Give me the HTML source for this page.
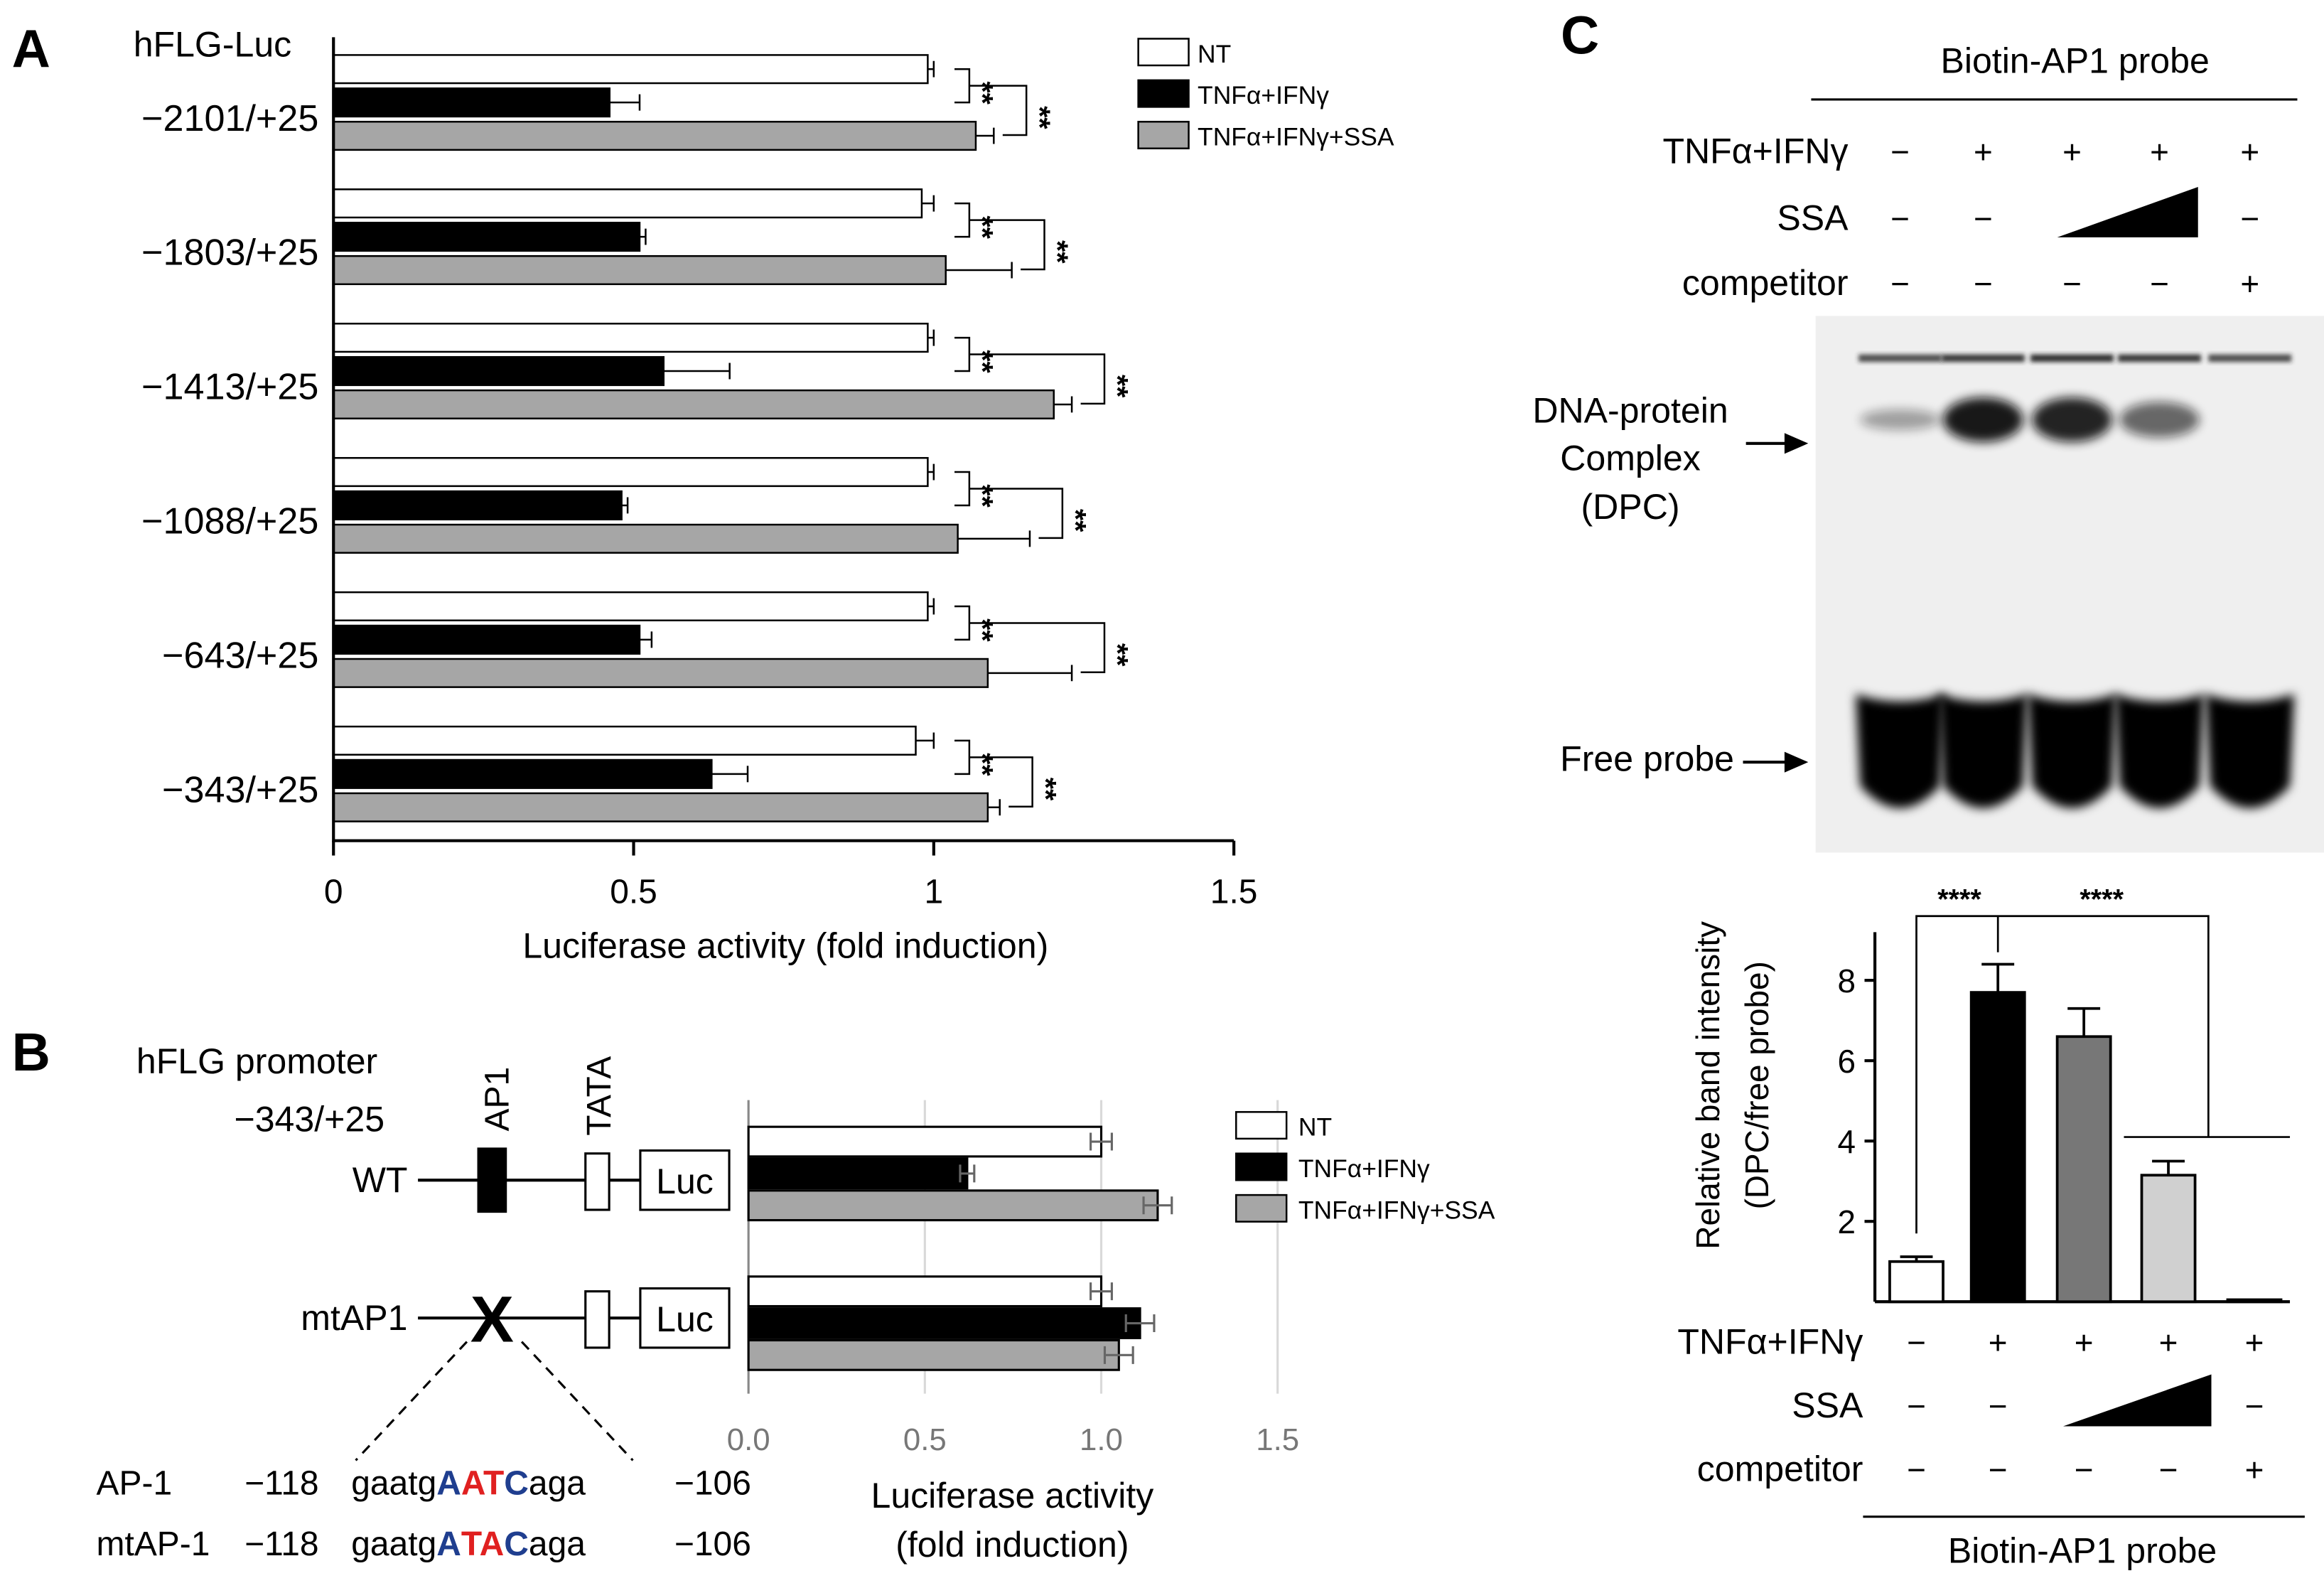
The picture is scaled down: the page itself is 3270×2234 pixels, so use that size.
<!DOCTYPE html>
<html><head><meta charset="utf-8"><style>
html,body{margin:0;padding:0;background:#fff;}
svg{display:block;font-family:"Liberation Sans",Arial,sans-serif;}
</style></head><body>
<svg id="fig" width="3270" height="2234" viewBox="0 0 1568 1071" xmlns="http://www.w3.org/2000/svg">
<defs>
<filter id="blur" x="-30%" y="-50%" width="160%" height="200%"><feGaussianBlur stdDeviation="3.5"/></filter>
<filter id="blur2" x="-20%" y="-50%" width="140%" height="200%"><feGaussianBlur stdDeviation="1.5"/></filter>
</defs>
<g id="panelA"></g>
<g id="panelB"></g>
<g id="panelC"></g>
</svg>
<script>
// ---- Panel A data ----
const aCategories = ["−2101/+25","−1803/+25","−1413/+25","−1088/+25","−643/+25","−343/+25"];
const aNT = [0.99,0.98,0.99,0.99,0.99,0.97];
const aNTerr = [0.01,0.02,0.01,0.01,0.01,0.03];
const aTI = [0.46,0.51,0.55,0.48,0.51,0.63];
const aTIerr = [0.05,0.01,0.11,0.01,0.02,0.06];
const aSSA = [1.07,1.02,1.20,1.04,1.09,1.09];
const aSSAerr = [0.03,0.11,0.03,0.12,0.14,0.02];
const aTicks = [0,0.5,1,1.5];
const aTickLabels = ["0","0.5","1","1.5"];
// ---- Panel B data ----
const bCategories = ["WT","mtAP1"];
const bNT = [1.0,1.0];
const bNTerr = [0.03,0.03];
const bTI = [0.62,1.11];
const bTIerr = [0.02,0.04];
const bSSA = [1.16,1.05];
const bSSAerr = [0.04,0.04];
const bTicks = [0,0.5,1.0,1.5];
const bTickLabels = ["0.0","0.5","1.0","1.5"];
// ---- Panel C data ----
const cLanes = ["lane1","lane2","lane3","lane4","lane5"];
const cValues = [1.0,7.7,6.6,3.15,0.05];
const cErr = [0.12,0.7,0.7,0.35,0];
const cTicks = [2,4,6,8];
const cTickLabels = ["2","4","6","8"];

const NS="http://www.w3.org/2000/svg";
function el(parent,tag,attrs,text){const e=document.createElementNS(NS,tag);for(const k in attrs)e.setAttribute(k,attrs[k]);if(text!==undefined)e.textContent=text;parent.appendChild(e);return e;}

// ===== Panel A =====
const A=document.getElementById('panelA');
const ax=v=>225+v*405;
const aGroupTop=i=>37+i*90.6;
let t;
t=el(A,'text',{x:8,y:45,'font-size':36,'font-weight':'bold'},'A');

t=el(A,'text',{x:90,y:38,'font-size':24},'hFLG-Luc');

const aSeries=[[aNT,aNTerr,'#fff'],[aTI,aTIerr,'#000'],[aSSA,aSSAerr,'#a6a6a6']];
aCategories.forEach((c,i)=>{
  const top=aGroupTop(i);
  t=el(A,'text',{x:215,y:top+51,'font-size':25,'text-anchor':'end'},c);
  
  aSeries.forEach((s,j)=>{
    const y=top+j*22.5, v=s[0][i], e=s[1][i];
    const r=el(A,'rect',{x:ax(0),y:y,width:ax(v)-ax(0),height:19,fill:s[2],stroke:'#000','stroke-width':1.2});
    
    const l=el(A,'path',{d:`M${ax(v)} ${y+9.5}H${ax(v+e)}M${ax(v+e)} ${y+4}V${y+15}`,stroke:'#000','stroke-width':1.2,fill:'none'});
    
  });
  const x1=Math.max(ax(aNT[i]+aNTerr[i]),ax(aTI[i]+aTIerr[i]))+14;
  const y1=top+9.5,y2=top+32;
  let b=el(A,'path',{d:`M${x1} ${y1}H${x1+10}V${y2}H${x1}`,stroke:'#000','stroke-width':1.2,fill:'none'});
  
  t=el(A,'text',{x:x1+16,y:(y1+y2)/2+7,'font-size':20,transform:`rotate(90 ${x1+19} ${(y1+y2)/2})`,'font-weight':'bold'},'**');
  
  const x2=Math.max(x1+20,ax(aSSA[i]+aSSAerr[i])+10);
  const y3=(y1+y2)/2,y4=top+54;
  b=el(A,'path',{d:`M${x1+10} ${y3}H${x2+12}V${y4}H${ax(aSSA[i]+aSSAerr[i])+6}`,stroke:'#000','stroke-width':1.2,fill:'none'});
  
  t=el(A,'text',{x:x2+18,y:(y3+y4)/2+7,'font-size':20,'font-weight':'bold',transform:`rotate(90 ${x2+21} ${(y3+y4)/2})`},'**');
  
});
let axl=el(A,'path',{d:`M225 25V567H${ax(1.5)}`,stroke:'#000','stroke-width':2,fill:'none'});

aTicks.forEach((v,i)=>{
  let k=el(A,'line',{x1:ax(v),x2:ax(v),y1:567,y2:577,stroke:'#000','stroke-width':2});
  
  t=el(A,'text',{x:ax(v),y:609,'font-size':23,'text-anchor':'middle'},aTickLabels[i]);
  
});
t=el(A,'text',{x:530,y:646,'font-size':24,'text-anchor':'middle'},'Luciferase activity (fold induction)');

const aLeg=[['NT','#fff'],['TNFα+IFNγ','#000'],['TNFα+IFNγ+SSA','#a6a6a6']];
aLeg.forEach((L,i)=>{
  const g=el(A,'g',{});
  el(g,'rect',{x:768,y:26+i*28,width:34,height:18,fill:L[1],stroke:'#000','stroke-width':1.2});
  el(g,'text',{x:808,y:42+i*28,'font-size':17},L[0]);
});

// ===== Panel B =====
const B=document.getElementById('panelB');
const bx=v=>505+v*238;
t=el(B,'text',{x:8,y:722,'font-size':36,'font-weight':'bold'},'B');

t=el(B,'text',{x:92,y:724,'font-size':24},'hFLG promoter');

t=el(B,'text',{x:158,y:763,'font-size':24},'−343/+25');

[[796,'WT'],[889,'mtAP1']].forEach((d,i)=>{
  const y=d[0];
  const g=el(B,'g',{});
  el(g,'text',{x:275,y:y+8,'font-size':24,'text-anchor':'end'},d[1]);
  el(g,'line',{x1:282,x2:432,y1:y,y2:y,stroke:'#000','stroke-width':2});
  if(i===0) el(g,'rect',{x:322,y:y-22,width:20,height:44,fill:'#000'});
  else el(g,'text',{x:332,y:y+16,'font-size':44,'font-weight':'bold','text-anchor':'middle'},'X');
  el(g,'rect',{x:395,y:y-18,width:16,height:38,fill:'#fff',stroke:'#000','stroke-width':1.5});
  el(g,'rect',{x:432,y:y-20,width:60,height:40,fill:'#fff',stroke:'#000','stroke-width':1.5});
  el(g,'text',{x:462,y:y+9,'font-size':24,'text-anchor':'middle'},'Luc');
});
t=el(B,'text',{x:0,y:0,'font-size':23,transform:'translate(343 763) rotate(-90)'},'AP1');

t=el(B,'text',{x:0,y:0,'font-size':23,transform:'translate(412 766) rotate(-90)'},'TATA');

let dl=el(B,'path',{d:'M315 905L240 985M352 905L427 985',stroke:'#000','stroke-width':1.5,'stroke-dasharray':'7 5',fill:'none'});

let s1=el(B,'text',{x:65,y:1008,'font-size':23},'');

s1.innerHTML='AP-1<tspan x="165">−118</tspan><tspan x="237">gaatg</tspan><tspan fill="#1f3e8f" font-weight="bold">A</tspan><tspan fill="#e02020" font-weight="bold">AT</tspan><tspan fill="#1f3e8f" font-weight="bold">C</tspan>aga<tspan x="455">−106</tspan>';
let s2=el(B,'text',{x:65,y:1049,'font-size':23},'');

s2.innerHTML='mtAP-1<tspan x="165">−118</tspan><tspan x="237">gaatg</tspan><tspan fill="#1f3e8f" font-weight="bold">A</tspan><tspan fill="#e02020" font-weight="bold">TA</tspan><tspan fill="#1f3e8f" font-weight="bold">C</tspan>aga<tspan x="455">−106</tspan>';
bTicks.forEach((v,i)=>{
  if(v>0){let gl=el(B,'line',{x1:bx(v),x2:bx(v),y1:742,y2:940,stroke:'#d9d9d9','stroke-width':1.5});
  }
  t=el(B,'text',{x:bx(v),y:978,'font-size':21,'text-anchor':'middle',fill:'#777'},bTickLabels[i]);
  
});
let bax=el(B,'line',{x1:505,x2:505,y1:742,y2:940,stroke:'#888','stroke-width':1.5});

const bSeries=[[bNT,bNTerr,'#fff'],[bTI,bTIerr,'#000'],[bSSA,bSSAerr,'#a6a6a6']];
bCategories.forEach((c,i)=>{
  const top=760+i*101;
  bSeries.forEach((s,j)=>{
    const y=top+j*21.5,v=s[0][i],e=s[1][i];
    const r=el(B,'rect',{x:bx(0),y:y,width:bx(v)-bx(0),height:20,fill:s[2],stroke:'#000','stroke-width':1.5});
    
    const l=el(B,'path',{d:`M${bx(v-e)} ${y+10}H${bx(v+e)}M${bx(v-e)} ${y+4}V${y+16}M${bx(v+e)} ${y+4}V${y+16}`,stroke:'#666','stroke-width':1.5,fill:'none'});
    
  });
});
t=el(B,'text',{x:683,y:1017,'font-size':24,'text-anchor':'middle'},'Luciferase activity');

t=el(B,'text',{x:683,y:1050,'font-size':24,'text-anchor':'middle'},'(fold induction)');

aLeg.forEach((L,i)=>{
  const g=el(B,'g',{});
  el(g,'rect',{x:834,y:750+i*28,width:34,height:18,fill:L[1],stroke:'#000','stroke-width':1.2});
  el(g,'text',{x:876,y:766+i*28,'font-size':17},L[0]);
});

// ===== Panel C =====
const C=document.getElementById('panelC');
t=el(C,'text',{x:1053,y:36,'font-size':36,'font-weight':'bold'},'C');

t=el(C,'text',{x:1400,y:49,'font-size':24,'text-anchor':'middle'},'Biotin-AP1 probe');

el(C,'line',{x1:1222,x2:1550,y1:67,y2:67,stroke:'#000','stroke-width':1.5});
const laneX=[1282,1338,1398,1457,1518];
const topRows=[['TNFα+IFNγ',102,['−','+','+','+','+']],['SSA',147,['−','−',null,null,'−']],['competitor',191,['−','−','−','−','+']]];
topRows.forEach(r=>{
  const g=el(C,'g',{});
  el(g,'text',{x:1247,y:r[1]+8,'font-size':24,'text-anchor':'end'},r[0]);
  r[2].forEach((s,i)=>{if(s)el(g,'text',{x:laneX[i],y:r[1]+8,'font-size':22,'text-anchor':'middle'},s);});
});
el(C,'path',{d:'M1388 160L1483 126V160Z',fill:'#000'});
const gel=el(C,'g',{});
el(gel,'rect',{x:1225,y:213,width:343,height:362,fill:'#efefef'});
laneX.forEach((x,i)=>{
  el(gel,'rect',{x:x-28,y:239,width:56,height:5,fill:'#222',filter:'url(#blur2)',opacity:[0.8,0.9,0.95,0.9,0.8][i]});
  el(gel,'path',{d:`M${x-30} 468 Q${x} 478 ${x+30} 468 L${x+27} 530 Q${x} 560 ${x-27} 530Z`,fill:'#000',filter:'url(#blur)'});
});
[[0,0.35,7],[1,0.95,15],[2,0.9,15],[3,0.6,12]].forEach(d=>{
  el(gel,'ellipse',{cx:laneX[d[0]],cy:283,rx:27,ry:d[2],fill:'#111',opacity:d[1],filter:'url(#blur)'});
});
const gl=[['DNA-protein',285],['Complex',317],['(DPC)',350]];
gl.forEach(g=>{t=el(C,'text',{x:1100,y:g[1],'font-size':24,'text-anchor':'middle'},g[0]);});
el(C,'path',{d:'M1178 299H1208',stroke:'#000','stroke-width':2});
el(C,'path',{d:'M1220 299L1204 292V306Z',fill:'#000'});
t=el(C,'text',{x:1170,y:520,'font-size':24,'text-anchor':'end'},'Free probe');

el(C,'path',{d:'M1176 514H1208',stroke:'#000','stroke-width':2});
el(C,'path',{d:'M1220 514L1204 507V521Z',fill:'#000'});
const cy=v=>878-v*27.1;
const cax=el(C,'path',{d:`M1265 ${cy(0)}H1545M1265 ${cy(0)}V${cy(9.2)}`,stroke:'#000','stroke-width':2,fill:'none'});

cTicks.forEach((v,i)=>{
  el(C,'line',{x1:1258,x2:1265,y1:cy(v),y2:cy(v),stroke:'#000','stroke-width':2});
  t=el(C,'text',{x:1252,y:cy(v)+8,'font-size':22,'text-anchor':'end'},cTickLabels[i]);
  
});
t=el(C,'text',{x:0,y:0,'font-size':22,'text-anchor':'middle',transform:'translate(1160 732) rotate(-90)'},'Relative band intensity');

t=el(C,'text',{x:0,y:0,'font-size':22,'text-anchor':'middle',transform:'translate(1193 732) rotate(-90)'},'(DPC/free probe)');

const cFill=['#fff','#000','#777','#d0d0d0','#fff'];
const cBarX=[1293,1348,1406,1463,1521];
cLanes.forEach((l,i)=>{
  const v=cValues[i],e=cErr[i],x=cBarX[i];
  const r=el(C,'rect',{x:x-18,y:cy(v),width:36,height:cy(0)-cy(v),fill:cFill[i],stroke:'#000','stroke-width':1.8});
  
  if(e>0){const eb=el(C,'path',{d:`M${x} ${cy(v)}V${cy(v+e)}M${x-11} ${cy(v+e)}H${x+11}`,stroke:'#000','stroke-width':1.8,fill:'none'});
  }
});
const sb=el(C,'path',{d:`M1293 ${cy(1.7)}V${cy(9.6)}H1348V${cy(8.7)}M1348 ${cy(9.6)}H1490V${cy(4.1)}M1433 ${cy(4.1)}H1545`,stroke:'#000','stroke-width':1.3,fill:'none'});

t=el(C,'text',{x:1322,y:cy(9.6)-5,'font-size':19,'text-anchor':'middle','font-weight':'bold'},'****');

t=el(C,'text',{x:1418,y:cy(9.6)-5,'font-size':19,'text-anchor':'middle','font-weight':'bold'},'****');

const botRows=[['TNFα+IFNγ',905,['−','+','+','+','+']],['SSA',948,['−','−',null,null,'−']],['competitor',991,['−','−','−','−','+']]];
botRows.forEach(r=>{
  const g=el(C,'g',{});
  el(g,'text',{x:1257,y:r[1]+8,'font-size':24,'text-anchor':'end'},r[0]);
  r[2].forEach((s,i)=>{if(s)el(g,'text',{x:cBarX[i],y:r[1]+8,'font-size':22,'text-anchor':'middle'},s);});
});
el(C,'path',{d:'M1392 962L1492 927V962Z',fill:'#000'});
el(C,'line',{x1:1257,x2:1555,y1:1023,y2:1023,stroke:'#000','stroke-width':1.5});
t=el(C,'text',{x:1405,y:1054,'font-size':24,'text-anchor':'middle'},'Biotin-AP1 probe');

</script>
</body></html>
